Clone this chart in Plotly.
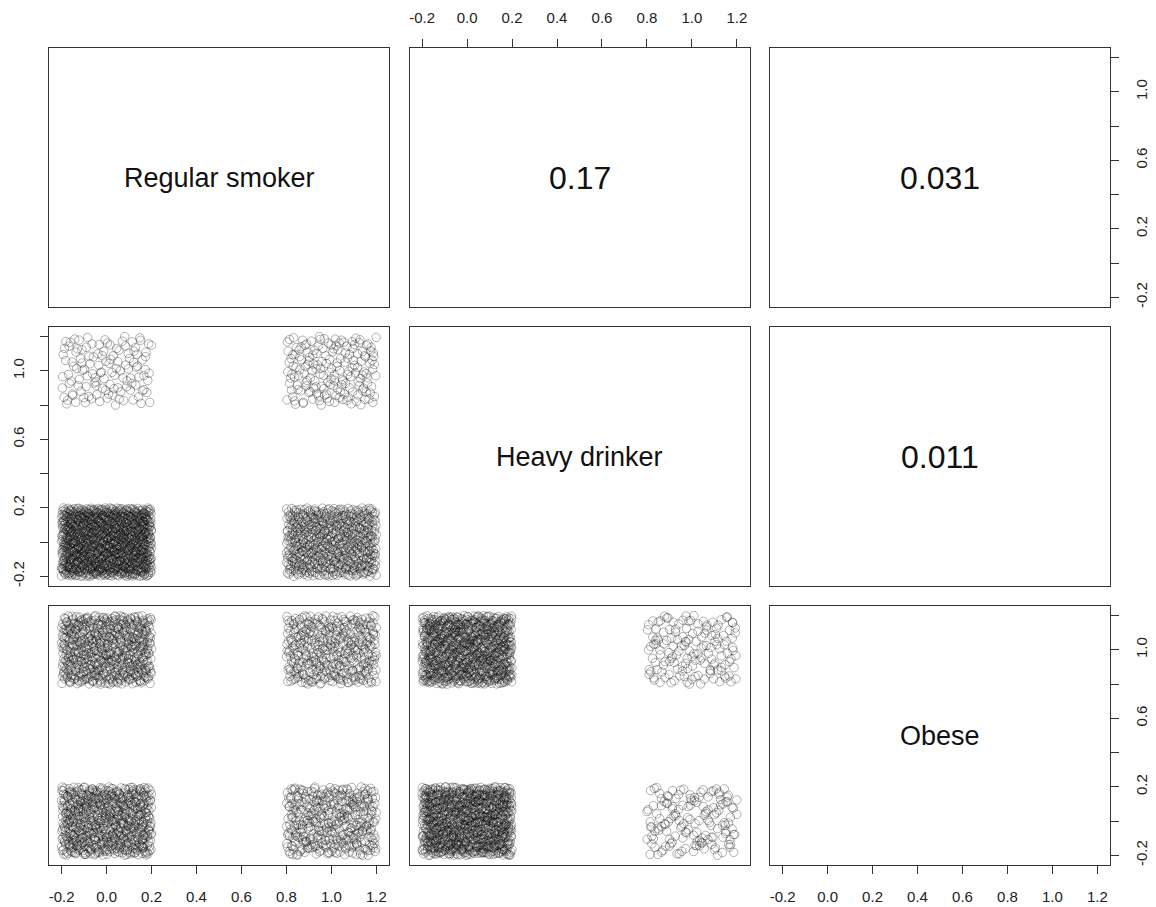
import numpy as np
import plotly.graph_objects as go

# ---- data: counts of each (smoker, drinker, obese) combination ----
var_names = ["Regular smoker", "Heavy drinker", "Obese"]
smoker = [0, 0, 0, 0, 1, 1, 1, 1]
drinker = [0, 0, 1, 1, 0, 0, 1, 1]
obese = [0, 1, 0, 1, 0, 1, 0, 1]
counts = [580, 520, 65, 60, 290, 290, 85, 90]
corr_labels = {(0, 1): "0.17", (0, 2): "0.031", (1, 2): "0.011"}
tick_vals = [-0.2, 0.0, 0.2, 0.4, 0.6, 0.8, 1.0, 1.2]
x_tick_text = ["-0.2", "0.0", "0.2", "0.4", "0.6", "0.8", "1.0", "1.2"]
y_tick_text = ["-0.2", "", "0.2", "", "0.6", "", "1.0", ""]

# ---- expand to records, deterministic jitter (leaped, digit-permuted Halton) ----
def halton(n, base, leap, perm):
    out = np.zeros(n)
    for i in range(n):
        f, r, k = 1.0, 0.0, i * leap + 7
        while k > 0:
            f /= base
            r += f * perm[k % base]
            k //= base
        out[i] = r
    return out

vals = [np.repeat(smoker, counts).astype(float),
        np.repeat(drinker, counts).astype(float),
        np.repeat(obese, counts).astype(float)]
n = len(vals[0])
specs = [(2, 11, [1, 0]), (3, 13, [2, 0, 1]), (5, 17, [3, 0, 4, 1, 2])]
jit = [v + (-0.2 + 0.4 * halton(n, b, lp, pm)) for v, (b, lp, pm) in zip(vals, specs)]

W, H = 1156, 907
col_left = [49, 409.5, 770]
col_w = 340
row_top = [48, 327, 606]
row_h = 259
rng = [-0.256, 1.256]
line_col = "#333333"
font_fam = "Liberation Sans, Arial, Helvetica, sans-serif"

fig = go.Figure()
layout = {}
annotations = []

for r in range(3):
    for c in range(3):
        idx = r * 3 + c + 1
        xa = "x" if idx == 1 else f"x{idx}"
        ya = "y" if idx == 1 else f"y{idx}"
        xkey = "xaxis" if idx == 1 else f"xaxis{idx}"
        ykey = "yaxis" if idx == 1 else f"yaxis{idx}"
        base_ax = dict(range=rng, showgrid=False, zeroline=False, showline=True,
                       mirror=True, linecolor=line_col, linewidth=1,
                       showticklabels=False, ticks="", fixedrange=True,
                       tickfont=dict(family=font_fam, size=15, color="#222"))
        xd = dict(base_ax, domain=[col_left[c] / W, (col_left[c] + col_w) / W], anchor=ya)
        yd = dict(base_ax, domain=[1 - (row_top[r] + row_h) / H, 1 - row_top[r] / H], anchor=xa)

        xtick = dict(ticks="outside", ticklen=8, tickwidth=1, tickcolor=line_col,
                     showticklabels=True, tickvals=tick_vals, ticktext=x_tick_text,
                     ticklabelstandoff=10)
        ytick = dict(ticks="outside", ticklen=8, tickwidth=1, tickcolor=line_col,
                     showticklabels=True, tickvals=tick_vals, ticktext=y_tick_text,
                     tickangle=-90, ticklabelstandoff=10)
        if r == 0 and c == 1:
            xd.update(side="top", **xtick)
        if r == 2 and c in (0, 2):
            xd.update(side="bottom", **xtick)
        if r == 1 and c == 0:
            yd.update(side="left", **ytick)
        if c == 2 and r in (0, 2):
            yd.update(side="right", **ytick)
        layout[xkey] = xd
        layout[ykey] = yd

        if r > c:
            fig.add_trace(go.Scatter(
                x=jit[c], y=jit[r], mode="markers", xaxis=xa, yaxis=ya,
                showlegend=False, hoverinfo="skip",
                marker=dict(symbol="circle-open", size=8.5, color="rgba(0,0,0,0.3)",
                            line=dict(width=1))))
        else:
            fig.add_trace(go.Scatter(x=[], y=[], xaxis=xa, yaxis=ya, showlegend=False))
            if r == c:
                txt, size = var_names[r], 27
            else:
                txt, size = corr_labels[(r, c)], 32
            annotations.append(dict(text=txt, xref=f"{xa} domain", yref=f"{ya} domain",
                                    x=0.5, y=0.5, showarrow=False,
                                    font=dict(family=font_fam, size=size, color="#111")))

fig.update_layout(width=W, height=H, margin=dict(l=0, r=0, t=0, b=0),
                  paper_bgcolor="white", plot_bgcolor="white",
                  annotations=annotations, **layout)
fig.write_html("out.html", config={"displayModeBar": False},
               post_script="document.body.style.margin='0px';")
